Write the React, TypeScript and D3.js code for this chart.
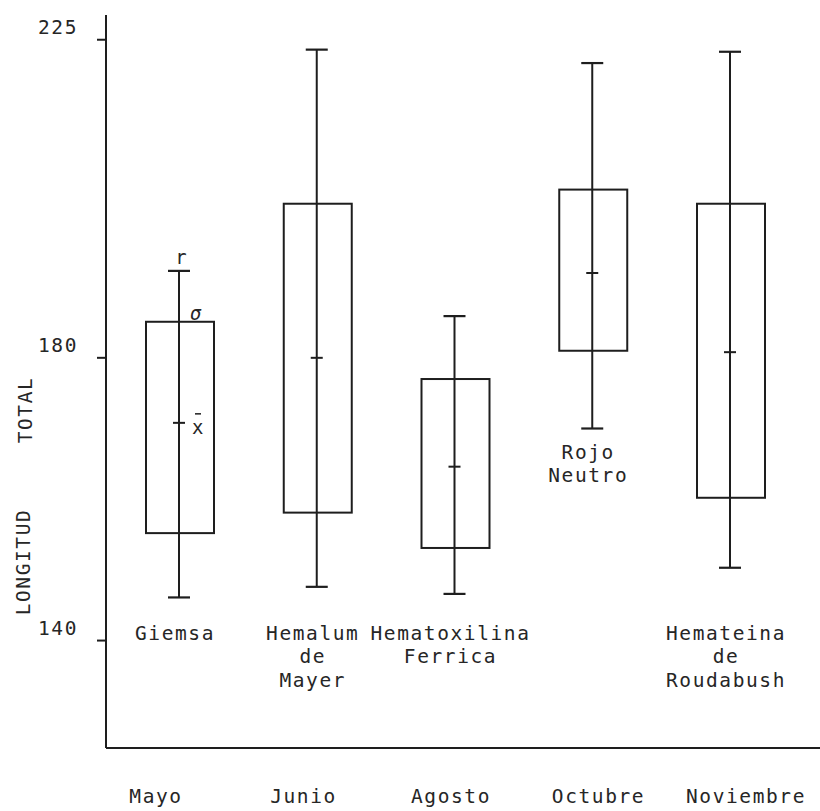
import React from 'react';
import * as d3 from 'd3';

// months (x categories) and stain names written under each box
const months = ['Mayo', 'Junio', 'Agosto', 'Octubre', 'Noviembre'];
const stains = [
  ['Giemsa'],
  ['Hemalum', 'de', 'Mayer'],
  ['Hematoxilina', 'Ferrica'],
  ['Rojo', 'Neutro'],
  ['Hemateina', 'de', 'Roudabush'],
];

// r (range), sigma box and mean
const maxVals = [192.3, 223.6, 185.9, 221.7, 223.3];
const boxTop = [185.1, 201.8, 177.0, 203.8, 201.8];
const meanVals = [170.8, 180.0, 164.6, 192.0, 180.8];
const boxBottom = [155.2, 158.1, 153.1, 181.0, 160.2];
const minVals = [146.1, 147.6, 146.6, 170.0, 150.3];

const yTicks = [140, 180, 225];

const width = 820;
const height = 811;
const axisX = 106;
const axisTop = 15;
const axisBottom = 748;

const font = '"DejaVu Sans Mono", "Liberation Mono", monospace';
const ink = '#1e1e1e';

export default function App() {
  const y = d3.scaleLinear().domain([124.8, 228.5]).range([axisBottom, axisTop]);
  const x = d3.scalePoint<string>().domain(months).range([179, 730]);
  // month names sit on their own spacing, a bit wider than the boxes
  const xMonth = d3.scalePoint<string>().domain(months).range([156, 746]);

  const boxW = 68;
  const capW = 22;
  const meanW = 12;
  const lineH = 23.5;

  const textStyle = { fontFamily: font, fontSize: 19.5, letterSpacing: 1.6, fill: '#262626' };

  return (
    <svg width={width} height={height} style={{ position: 'absolute', left: 0, top: 0, background: '#fff' }}>
      {/* axes */}
      <line x1={axisX} y1={axisTop} x2={axisX} y2={axisBottom} stroke={ink} strokeWidth={2} />
      <line x1={axisX} y1={axisBottom} x2={width} y2={axisBottom} stroke={ink} strokeWidth={2} />

      {yTicks.map((t) => (
        <g key={t}>
          <line x1={axisX - 9} x2={axisX} y1={y(t)} y2={y(t)} stroke={ink} strokeWidth={2} />
          <text x={78} y={y(t) - 6} textAnchor="end" style={textStyle}>{t}</text>
        </g>
      ))}

      {/* y title, reads bottom to top */}
      <text transform={`translate(23,562) rotate(-90)`} textAnchor="middle" dominantBaseline="central" style={textStyle}>LONGITUD</text>
      <text transform={`translate(25,410) rotate(-90)`} textAnchor="middle" dominantBaseline="central" style={textStyle}>TOTAL</text>

      {months.map((m, i) => {
        const cx = x(m)!;
        const labelY = minVals[i] > 160 ? y(minVals[i]) + 30 : y(140) - 1;
        return (
          <g key={m}>
            <rect x={cx - boxW / 2 + 1} y={y(boxTop[i])} width={boxW} height={y(boxBottom[i]) - y(boxTop[i])}
              fill="none" stroke={ink} strokeWidth={2} />
            <line x1={cx} x2={cx} y1={y(maxVals[i])} y2={y(minVals[i])} stroke={ink} strokeWidth={2} />
            <line x1={cx - capW / 2} x2={cx + capW / 2} y1={y(maxVals[i])} y2={y(maxVals[i])} stroke={ink} strokeWidth={2.2} />
            <line x1={cx - capW / 2} x2={cx + capW / 2} y1={y(minVals[i])} y2={y(minVals[i])} stroke={ink} strokeWidth={2.2} />
            <line x1={cx - meanW / 2} x2={cx + meanW / 2} y1={y(meanVals[i])} y2={y(meanVals[i])} stroke={ink} strokeWidth={2} />

            {stains[i].map((s, j) => (
              <text key={s + j} x={cx - 4} y={labelY + j * lineH} textAnchor="middle" style={textStyle}>{s}</text>
            ))}

            <text x={xMonth(m)} y={803} textAnchor="middle" style={textStyle}>{m}</text>
          </g>
        );
      })}

      {/* legend marks written on the first box */}
      {(() => {
        const cx = x(months[0])!;
        return (
          <g style={{ fontFamily: font, fill: '#262626' }}>
            <text x={cx + 2} y={y(maxVals[0]) - 7} textAnchor="middle" fontSize={19}>r</text>
            <text x={cx + 11} y={y(boxTop[0]) - 2} fontSize={19} fontStyle="italic">σ</text>
            <text x={cx + 13} y={y(meanVals[0]) + 11} fontSize={19}>x</text>
            <line x1={cx + 16} x2={cx + 22} y1={y(meanVals[0]) - 9} y2={y(meanVals[0]) - 9} stroke={ink} strokeWidth={1.5} />
          </g>
        );
      })()}
    </svg>
  );
}
